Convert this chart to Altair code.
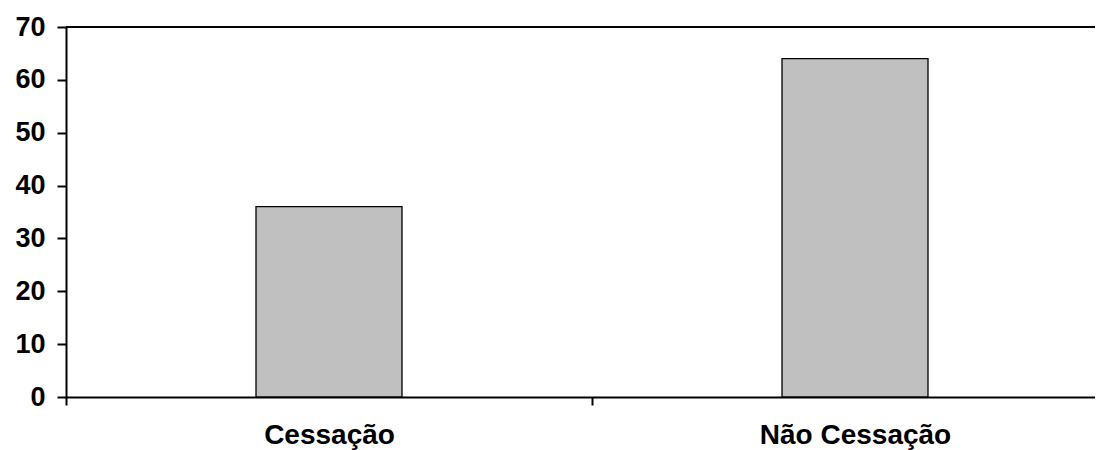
import altair as alt
import pandas as pd

categories = ["Cessação", "Não Cessação"]
values = [36, 64]

df = pd.DataFrame({"cat": categories, "val": values})

W = 1029
H = 370

base = alt.Chart(df)

bars = base.mark_bar(size=146, fill="#C0C0C0", stroke="black", strokeWidth=1.3).encode(
    x=alt.X("cat:N", sort=categories,
            scale=alt.Scale(range=[0, 1052], paddingInner=0, paddingOuter=0),
            axis=alt.Axis(title=None, labelAngle=0, tickBand="extent", labelLimit=0,
                          labelFont="Liberation Sans", labelFontWeight="bold",
                          labelFontSize=28, labelColor="black", labelPadding=16,
                          domainColor="black", domainWidth=2,
                          tickColor="black", tickWidth=2, tickSize=8, grid=False)),
    y=alt.Y("val:Q", scale=alt.Scale(domain=[0, 70], nice=False),
            axis=alt.Axis(title=None, values=list(range(0, 80, 10)),
                          labelFont="Liberation Sans", labelFontWeight="bold",
                          labelFontSize=27, labelColor="black", labelPadding=12,
                          domainColor="black", domainWidth=2,
                          tickColor="black", tickWidth=2, tickSize=9, grid=False)),
)

top = alt.Chart(pd.DataFrame({"y": [70]})).mark_rule(color="black", strokeWidth=2).encode(
    y="y:Q", x=alt.value(0), x2=alt.value(W)
)

chart = alt.layer(bars, top).properties(
    width=W, height=H,
    autosize=alt.AutoSizeParams(type="none"),
    padding={"left": 58, "top": 19, "right": 0, "bottom": 53},
).configure_view(stroke=None).configure(background="white")

chart.save("out.html", embed_options={"renderer": "svg", "actions": False})
